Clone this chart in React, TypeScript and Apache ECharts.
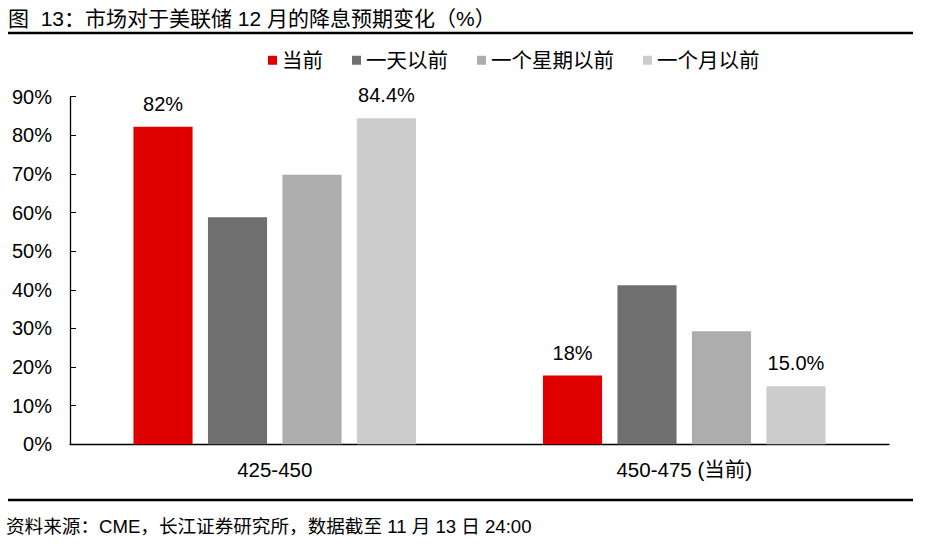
import React, { useEffect, useRef } from "react";
import * as echarts from "echarts";

const categories = ["425-450", "450-475 (当前)"];
const seriesNames = ["当前", "一天以前", "一个星期以前", "一个月以前"];
const current = [82.2, 17.8];
const oneDayAgo = [58.8, 41.2];
const oneWeekAgo = [69.8, 29.3];
const oneMonthAgo = [84.4, 15.0];
const yTicks = [0, 10, 20, 30, 40, 50, 60, 70, 80, 90];
const titleText = "图  13：市场对于美联储 12 月的降息预期变化（%）";
const sourceText = "资料来源：CME，长江证券研究所，数据截至 11 月 13 日 24:00";

const colors = ["#E00000", "#6F6F6F", "#ADADAD", "#CCCCCC"];
const FONT = "'Liberation Sans', Arial, 'Noto Sans CJK SC', sans-serif";

export default function App() {
  const ref = useRef<HTMLDivElement>(null);
  useEffect(() => {
    document.body.style.margin = "0";
    const chart = echarts.init(ref.current!, null, { renderer: "svg" });
    const values = [current, oneDayAgo, oneWeekAgo, oneMonthAgo];
    const labelFmt = [
      (v: number) => `${Math.round(v)}%`,
      null,
      null,
      (v: number) => `${v.toFixed(1)}%`,
    ];
    chart.setOption({
      animation: false,
      textStyle: { fontFamily: FONT, color: "#000" },
      title: {
        text: titleText,
        left: 3,
        top: 3,
        textStyle: { fontFamily: FONT, fontSize: 21, fontWeight: "normal", color: "#000" },
      },
      legend: {
        left: 263,
        top: 45,
        itemWidth: 9,
        itemHeight: 9,
        itemGap: 29,
        icon: "rect",
        textStyle: { fontFamily: FONT, fontSize: 20.5, color: "#000" },
        data: seriesNames,
      },
      grid: { left: 70, right: 36, top: 96.7, bottom: 551 - 444.3 },
      xAxis: {
        type: "category",
        data: categories,
        axisLine: { lineStyle: { color: "#000", width: 1.3 } },
        axisTick: { inside: true, length: 5, lineStyle: { color: "#000" } },
        axisLabel: { fontFamily: FONT, fontSize: 20.5, color: "#000", margin: 15 },
      },
      yAxis: {
        type: "value",
        min: 0,
        max: 90,
        interval: 10,
        splitLine: { show: false },
        axisLine: { show: true, lineStyle: { color: "#000", width: 1.3 } },
        axisTick: { show: true, inside: true, length: 6, lineStyle: { color: "#000" } },
        axisLabel: {
          fontFamily: FONT,
          fontSize: 20,
          color: "#000",
          margin: 18,
          formatter: (v: number) => (yTicks.includes(v) ? `${v}%` : ""),
        },
      },
      series: seriesNames.map((name, i) => ({
        name,
        type: "bar",
        data: values[i],
        barGap: "26%",
        barCategoryGap: "31%",
        itemStyle: { color: colors[i] },
        label: labelFmt[i]
          ? {
              show: true,
              position: "top",
              distance: 13,
              fontFamily: FONT,
              fontSize: 20,
              color: "#000",
              formatter: (p: any) => (labelFmt[i] as any)(p.value),
            }
          : { show: false },
      })),
      graphic: [
        {
          type: "line",
          shape: { x1: 8, y1: 33, x2: 913, y2: 33 },
          style: { stroke: "#000", lineWidth: 2.5 },
        },
        {
          type: "line",
          shape: { x1: 8, y1: 500, x2: 913, y2: 500 },
          style: { stroke: "#000", lineWidth: 2.5 },
        },
        {
          type: "text",
          left: 6,
          top: 517,
          style: { text: sourceText, fontFamily: FONT, fontSize: 18.6, fill: "#000" },
        },
      ],
    });
    return () => chart.dispose();
  }, []);
  return <div ref={ref} style={{ width: 925, height: 551 }} />;
}
